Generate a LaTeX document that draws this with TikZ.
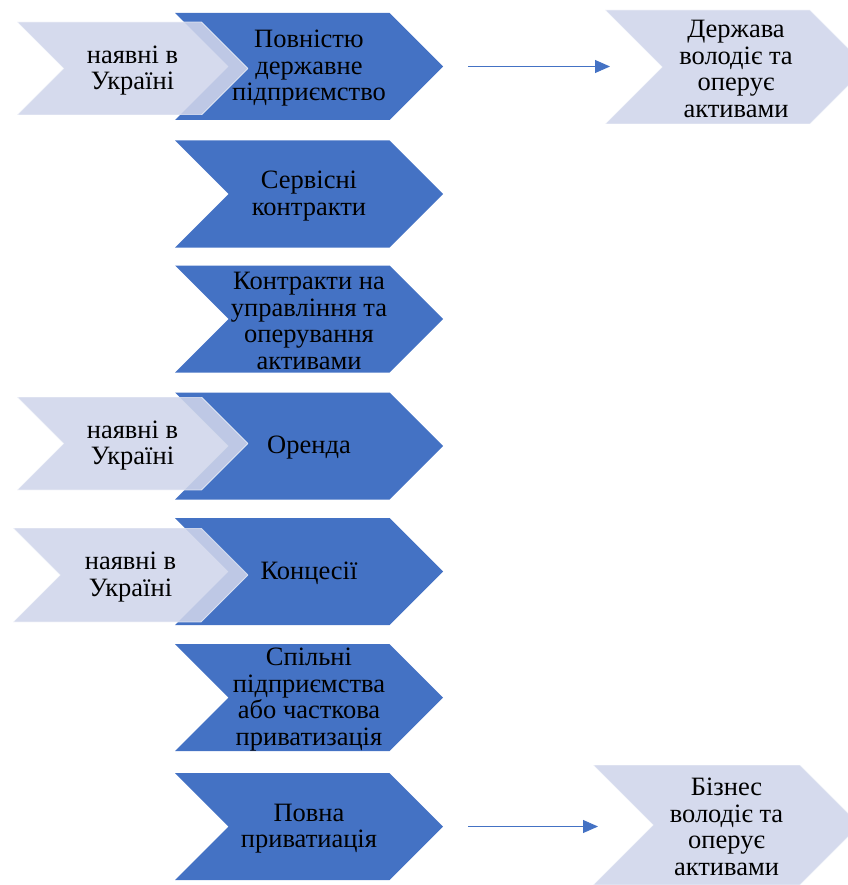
\documentclass[tikz,border=0pt]{standalone}
\usepackage{fontspec}
\setmainfont{Liberation Serif}
\usetikzlibrary{arrows.meta,calc}
\definecolor{chevblue}{HTML}{4472C4}
\definecolor{chevpale}{HTML}{CFD5EA}

\begin{document}
\begin{tikzpicture}[
  x=1pt, y=-1pt,
  chevfill/.style={},
  chevtext/.style={font=\fontsize{26.5}{26.5}\selectfont, align=center, text=black, yshift=-2pt},
  chev/.style={inner sep=0pt, outer sep=0pt, path picture={
      \path[chevfill] let \p1=(path picture bounding box.north west),
        \p2=(path picture bounding box.south east), \n1={(\y1-\y2)/2} in
        (\p1) -- (\x2-\n1,\y1) -- (\x2,\y1-\n1) -- (\x2-\n1,\y2) -- (\x1,\y2)
        -- (\x1+\n1,\y1-\n1) -- cycle;}},
  dark/.style={chev, minimum width=268pt, minimum height=107pt,
               chevfill/.style={fill=chevblue}},
  pale/.style={chev, chevfill/.style={fill=chevpale, fill opacity=0.88,
               draw=white, draw opacity=0.6, line width=0.8pt}},
  flow/.style={draw=chevblue, line width=0.9pt, -{Triangle[length=15pt,width=13pt]}},
]
\useasboundingbox (0,0) rectangle (847,885);

% --- main column ---
\node[dark, label={[chevtext]center:{Повністю\\державне\\підприємство}}] (c1) at (309,66.5) {};
\node[dark, label={[chevtext]center:{Сервісні\\контракти}}] (c2) at (309,194) {};
\node[dark, label={[chevtext]center:{Контракти на\\управління та\\оперування\\активами}}] (c3) at (309,319) {};
\node[dark, label={[chevtext]center:{Оренда}}] (c4) at (309,446) {};
\node[dark, label={[chevtext]center:{Концесії}}] (c5) at (309,571.5) {};
\node[dark, label={[chevtext]center:{Спільні\\підприємства\\або часткова\\приватизація}}] (c6) at (309,697.5) {};
\node[dark, label={[chevtext]center:{Повна\\приватиація}}] (c7) at (309,826.5) {};

% --- "present in Ukraine" tags ---
\node[pale, minimum width=231pt, minimum height=93pt,
      label={[chevtext]center:{наявні в\\Україні}}] (u1) at (132.5,68.5) {};
\node[pale, minimum width=231pt, minimum height=93pt,
      label={[chevtext]center:{наявні в\\Україні}}] (u4) at (132.5,443.5) {};
\node[pale, minimum width=235pt, minimum height=94pt,
      label={[chevtext]center:{наявні в\\Україні}}] (u5) at (130.5,575) {};

% --- outcomes ---
\node[pale, minimum width=262pt, minimum height=114pt,
      label={[chevtext]center:{Держава\\володіє та\\оперує\\активами}}] (r1) at (736,67) {};
\node[pale, minimum width=267pt, minimum height=120pt,
      label={[chevtext]center:{Бізнес\\володіє та\\оперує\\активами}}] (r2) at (726.5,825) {};

\draw[flow] ([xshift=25pt]c1.east) -- ([xshift=5pt]c1.east -| r1.west);
\draw[flow] ([xshift=25pt]c7.east) -- ([xshift=5pt]c7.east -| r2.west);

\end{tikzpicture}
\end{document}
